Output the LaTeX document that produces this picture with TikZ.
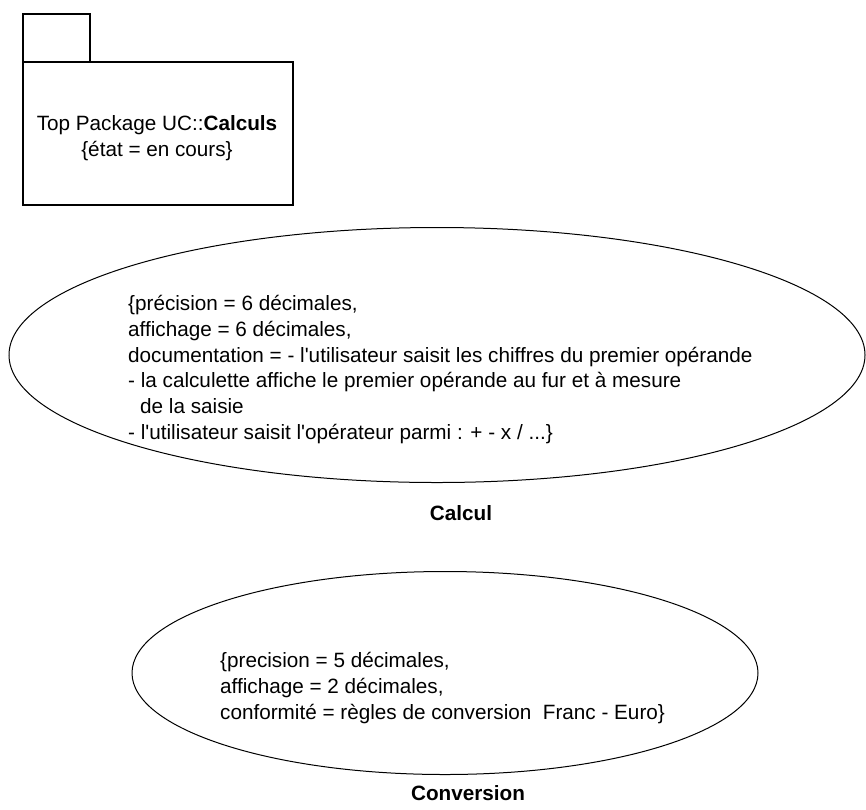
\documentclass[tikz,border=0pt]{standalone}
\usepackage{fontspec}
\setmainfont{Liberation Sans}
\usetikzlibrary{shapes.geometric}
\begin{document}
\begin{tikzpicture}[x=1pt,y=-1pt,
  pkgbox/.style={draw, line width=1.5pt, inner sep=0pt, anchor=north west},
  ucell/.style={draw, ellipse, line width=1pt, inner sep=0pt},
  txt/.style={inner sep=0pt, font=\fontsize{20.7}{25.8}\selectfont},
  lbl/.style={inner sep=0pt, font=\fontsize{20.7}{25.8}\selectfont\bfseries}]
\useasboundingbox (0,0) rectangle (866,809);
% package
\node[pkgbox, minimum width=67pt, minimum height=48pt] (tab) at (22,13) {};
\node[pkgbox, minimum width=270pt, minimum height=143pt] (body) at (22,61) {};
\node[txt, align=center] (pkgtext) at (157,138) {Top Package UC::\textbf{Calculs}\\\{état = en cours\}};
% Calcul use case
\node[ucell, minimum width=856pt, minimum height=255pt] (calcul) at (437,355) {};
\node[txt, align=left, anchor=north west] (calcultext) at (128,295)
 {\{précision = 6 décimales,\\
  affichage = 6 décimales,\\
  documentation = - l\textquotesingle utilisateur saisit les chiffres du premier opérande\\
  - la calculette affiche le premier opérande au fur et à mesure\\
  \hspace*{12pt}de la saisie\\
  - l\textquotesingle utilisateur saisit l\textquotesingle opérateur parmi : + - x / ...\}};
\node[lbl] (calcullabel) at (461,513) {Calcul};
% Conversion use case
\node[ucell, minimum width=626pt, minimum height=203pt] (conversion) at (445,673) {};
\node[txt, align=left, anchor=north west] (convtext) at (220,652)
 {\{precision = 5 décimales,\\
  affichage = 2 décimales,\\
  conformité = règles de conversion \ Franc - Euro\}};
\node[lbl] (convlabel) at (468,793) {Conversion};
\end{tikzpicture}
\end{document}
